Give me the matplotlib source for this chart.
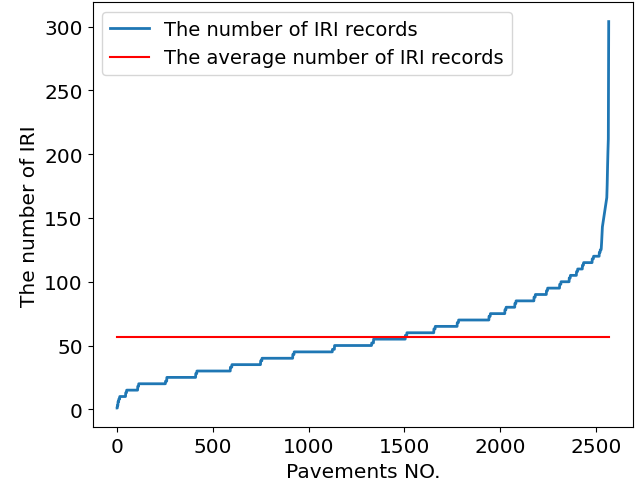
import numpy as np
import matplotlib
matplotlib.use("Agg")
import matplotlib.pyplot as plt

# Step levels of the sorted IRI-record counts and the pavement index where each level starts
step_levels = [1, 3, 6, 8, 10, 13, 15, 18, 20, 22, 25, 28, 30, 33, 35, 38, 40, 43, 45, 47, 50,
               52, 55, 58, 60, 63, 65, 68, 70, 73, 75, 78, 80, 83, 85, 88, 90, 93, 95, 98, 100,
               103, 105, 108, 110, 113, 115, 118, 120, 123, 125]
step_starts = [0, 2, 5, 9, 14, 45, 50, 108, 113, 253, 260, 411, 417, 592, 600, 750, 757, 918, 925, 1125, 1136,
               1330, 1340, 1506, 1514, 1655, 1662, 1777, 1784, 1943, 1950, 2026, 2032, 2078, 2084, 2178, 2185,
               2243, 2249, 2312, 2319, 2362, 2368, 2400, 2406, 2431, 2437, 2482, 2489, 2519, 2524]
# Explicit values of the steep tail (after the last step level)
tail_values = [126, 128, 131, 134, 137, 140, 143, 144,
               145, 146, 147, 148, 149, 150, 151, 152, 153, 154, 155, 156, 157, 158, 159, 160,
               161, 162, 163, 164, 165, 166,
               170, 176, 182, 190, 198, 202, 206, 212,
               250, 304]
tail_start = 2529
avg_records = 56.7

counts = np.diff(step_starts + [tail_start])
records = np.concatenate([np.repeat(step_levels, counts), tail_values])
idx = np.arange(len(records))

fig = plt.figure(figsize=(6.35, 4.89), dpi=100)
ax = fig.add_axes([0.1457, 0.1241, 0.8516, 0.8692])
ax.plot(idx, records, color="#1f77b4", linewidth=2, label="The number of IRI records")
ax.plot([idx[0], idx[-1]], [avg_records, avg_records], color="red", linewidth=1.5,
        label="The average number of IRI records")
ax.set_xlabel("Pavements NO.", fontsize=14.5)
ax.set_ylabel("The number of IRI", fontsize=14.5)
ax.tick_params(labelsize=14.5)
ax.set_yticks([0, 50, 100, 150, 200, 250, 300])
ax.set_xticks([0, 500, 1000, 1500, 2000, 2500])
ax.legend(loc="upper left", fontsize=14)
fig.savefig("out.png", dpi=100)
